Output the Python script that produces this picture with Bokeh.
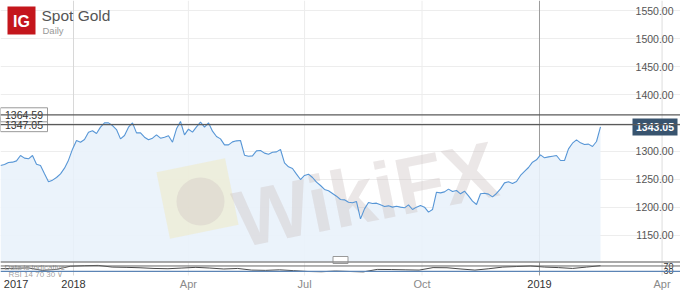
import pandas as pd
from bokeh.plotting import figure
from bokeh.models import Range1d, Span, Grid, FixedTicker
from bokeh.core.properties import value
from bokeh.embed import file_html
from bokeh.resources import INLINE

# ---------------- data ----------------
# Spot Gold daily close (evenly spaced from early Nov 2017 to mid Feb 2019)
price = [
    1274.4, 1276.2, 1279.8, 1280.4, 1282.7, 1292.2, 1287.5, 1286.3, 1292.2, 1276.8,
    1274.4, 1259.6, 1245.4, 1248.4, 1253.1, 1259.6, 1269.7, 1283.9, 1303.5, 1318.9,
    1315.9, 1320.7, 1333.7, 1336.1, 1331.3, 1342.6, 1350.3, 1350.3, 1345.5, 1338.4,
    1321.8, 1327.8, 1342.6, 1350.3, 1332.5, 1332.5, 1324.8, 1320.1, 1323.0, 1329.0,
    1323.0, 1324.8, 1327.2, 1315.9, 1339.6, 1352.7, 1329.0, 1339.0, 1333.7, 1343.2,
    1351.5, 1342.6, 1350.3, 1335.5, 1326.0, 1321.8, 1311.2, 1311.2, 1316.5, 1318.3,
    1318.9, 1292.8, 1291.0, 1291.6, 1300.5, 1301.1, 1296.4, 1294.6, 1298.1, 1298.7,
    1302.9, 1279.2, 1272.1, 1269.1, 1259.0, 1249.5, 1256.7, 1259.0, 1253.1, 1244.8,
    1238.9, 1231.8, 1229.4, 1224.7, 1219.9, 1214.0, 1213.4, 1209.2, 1208.1, 1210.4,
    1179.6, 1197.4, 1208.7, 1206.9, 1207.5, 1204.5, 1201.5, 1202.7, 1200.4, 1202.1,
    1200.4, 1199.2, 1204.5, 1196.2, 1200.4, 1203.3, 1200.4, 1191.5, 1196.2, 1227.0,
    1225.8, 1227.6, 1232.4, 1228.2, 1230.0, 1224.1, 1228.8, 1220.5, 1211.0, 1205.1,
    1224.1, 1225.2, 1223.5, 1218.7, 1224.7, 1232.9, 1243.6, 1245.4, 1242.4, 1246.0,
    1256.7, 1263.8, 1270.9, 1280.4, 1284.5, 1293.4, 1288.1, 1289.8, 1291.0, 1292.2,
    1283.3, 1283.3, 1304.1, 1314.1, 1320.1, 1314.7, 1311.8, 1312.4, 1308.2, 1317.1,
    1343.05,
]
series_start = "2017-11-04 19:40"
series_end = "2019-02-17 18:40"

# RSI(14) sub-panel (same span, coarser)
rsi = [50, 53, 56, 38, 45, 68, 72, 74, 62, 60, 57, 52, 50, 55, 60, 55, 48, 52, 40, 38,
       42, 36, 30, 28, 33, 30, 27, 45, 44, 42, 40, 58, 57, 48, 40, 50, 62, 66, 70, 62,
       58, 52, 62, 72]
rsi_levels = [70, 30]

last_price = 1343.05
levels = [1347.05, 1364.59]

y_ticks = [1150, 1200, 1250, 1300, 1400, 1450, 1500, 1550]
y_grid = [1150, 1200, 1250, 1300, 1350, 1400, 1450, 1500, 1550]

x_tick_dates = ["2017-11-17", "2018-01-01", "2018-04-01", "2018-07-01",
                "2018-10-01", "2019-01-01", "2019-04-07"]
x_tick_labels = ["2017", "2018", "Apr", "Jul", "Oct", "2019", "Apr"]

# ---------------- layout helpers ----------------
W, H = 680, 290
PX_PER_DAY = 1.2767
X_START = pd.Timestamp("2017-11-04 19:40")
X_END = X_START + pd.Timedelta(days=W / PX_PER_DAY)


def ms(t):
    return pd.Timestamp(t).value / 1e6


def x_at(px):
    return ms(X_START) + (ms(X_END) - ms(X_START)) * px / W


FONT = value("Liberation Sans")

dates = [ms(d) for d in pd.date_range(series_start, series_end, periods=len(price))]
rsi_dates = [ms(d) for d in pd.date_range(series_start, series_end, periods=len(rsi))]
tick_x = [ms(d) for d in x_tick_dates]

p = figure(width=W, height=H, toolbar_location=None, output_backend="svg",
           x_range=Range1d(ms(X_START), ms(X_END)),
           y_range=Range1d(1052.2, 1567.8),
           x_axis_location=None, y_axis_location=None,
           min_border=0, outline_line_color=None,
           background_fill_color="white", border_fill_color="white")
p.grid.visible = False
p.extra_y_ranges = {"px": Range1d(H, 0), "rsi": Range1d(-108.4, 2000.7)}

# grids
p.add_layout(Grid(dimension=1, ticker=FixedTicker(ticks=y_grid),
                  grid_line_color="#ededed", grid_line_width=1))
grid_colors = ["#d8d8d8", "#ececec", "#ececec", "#ececec", "#9c9c9c", "#dddddd"]
p.segment(x0=tick_x[1:], x1=tick_x[1:], y0=[0] * 6, y1=[275] * 6,
          y_range_name="px", line_color=grid_colors, line_width=1)

# area
FILL_BASE = 1102.9
p.varea(x=dates, y1=FILL_BASE, y2=price, fill_color="#e9f2fb", fill_alpha=0.9)

# watermark
p.rect(x=[x_at(197)], y=[198], width=70, height=68, width_units="screen",
       height_units="screen", angle=0.2, y_range_name="px",
       fill_color="#f3e3a0", fill_alpha=0.32, line_color=None)
p.circle(x=[x_at(200)], y=[201], radius=24, radius_units="screen", y_range_name="px",
         fill_color="#cfc6c2", fill_alpha=0.38, line_color=None)
p.text(x=[x_at(365)], y=[194], text=["WikiFX"], y_range_name="px", angle=0.2,
       text_align="center", text_baseline="middle", text_font=FONT,
       text_font_style="bold", text_font_size="80px", text_color="#cdc3c3",
       text_alpha=0.4)

# price line
p.line(dates, price, line_color="#5796d6", line_width=1.1)

# horizontal level lines
for lv in levels:
    p.add_layout(Span(location=lv, dimension="width", line_color="#5a5a5a",
                      line_width=1.3))

# level boxes (left)
p.rect(x=[x_at(23.5)] * 2, y=levels, width=47, height=14, width_units="screen",
       height_units="screen", fill_color="white", line_color="#9a9a9a", line_width=1)
p.text(x=[x_at(23.5)] * 2, y=levels, text=[f"{v:.2f}" for v in levels],
       text_align="center", text_baseline="middle", text_font=FONT,
       text_font_size="10.5px", text_color="#333333")

# price labels (right)
p.text(x=[x_at(673)] * len(y_ticks), y=y_ticks, text=[f"{v:.2f}" for v in y_ticks],
       text_align="right", text_baseline="middle", text_font=FONT,
       text_font_size="10.5px", text_color="#555555")

# last price tag
p.rect(x=[x_at(654.5)], y=[last_price], width=45, height=17, width_units="screen",
       height_units="screen", fill_color="#38546f", line_color=None)
p.text(x=[x_at(654.5)], y=[last_price], text=[f"{last_price:.2f}"],
       text_align="center", text_baseline="middle", text_font=FONT,
       text_font_style="bold", text_font_size="10.5px", text_color="white")

# RSI panel
p.add_layout(Span(location=261.5, dimension="width", y_range_name="px",
                  line_color="#8c8c8c", line_width=1.5))
p.add_layout(Span(location=rsi_levels[0], dimension="width", y_range_name="rsi",
                  line_color="#666666", line_width=1))
p.add_layout(Span(location=rsi_levels[1], dimension="width", y_range_name="rsi",
                  line_color="#5b84b5", line_width=1.3))
p.line(rsi_dates, rsi, y_range_name="rsi", line_color="#4a4a4a", line_width=1)
p.text(x=[x_at(673)] * 2, y=rsi_levels, y_range_name="rsi",
       text=[str(v) for v in rsi_levels], text_align="right", text_baseline="middle",
       text_font=FONT, text_font_size="9px", text_color="#333333")
p.rect(x=[x_at(340)], y=[259.5], width=15, height=7, width_units="screen",
       height_units="screen", y_range_name="px", fill_color="white",
       line_color="#999999")
p.text(x=[x_at(4)], y=[266.5], y_range_name="px", text=["Data is indicative"],
       text_baseline="middle", text_font=FONT, text_font_size="8px",
       text_color="#a0a0a0")
p.text(x=[x_at(8)], y=[274], y_range_name="px", text=["RSI 14 70 30 \u2228"],
       text_baseline="middle", text_font=FONT, text_font_size="8px",
       text_color="#777777", text_alpha=0.7)

# x tick labels
label_colors = ["#333333" if lab.isdigit() else "#8a8a8a" for lab in x_tick_labels]
p.text(x=tick_x, y=[283.5] * len(tick_x), y_range_name="px", text=x_tick_labels,
       text_align="center", text_baseline="middle", text_font=FONT,
       text_font_size="11px", text_color=label_colors)

# title block
p.rect(x=[x_at(21)], y=[20], width=28, height=28, width_units="screen",
       height_units="screen", y_range_name="px", fill_color="#c4161c", line_color=None)
p.text(x=[x_at(21)], y=[20.5], y_range_name="px", text=["IG"], text_align="center",
       text_baseline="middle", text_font=FONT, text_font_style="bold",
       text_font_size="16px", text_color="white")
p.text(x=[x_at(41)], y=[15], y_range_name="px", text=["Spot Gold"],
       text_baseline="middle", text_font=FONT, text_font_size="15.5px",
       text_color="#555555")
p.text(x=[x_at(42)], y=[29.5], y_range_name="px", text=["Daily"],
       text_baseline="middle", text_font=FONT, text_font_size="9.5px",
       text_color="#999999")

open("out.html", "w").write(file_html(p, INLINE))
